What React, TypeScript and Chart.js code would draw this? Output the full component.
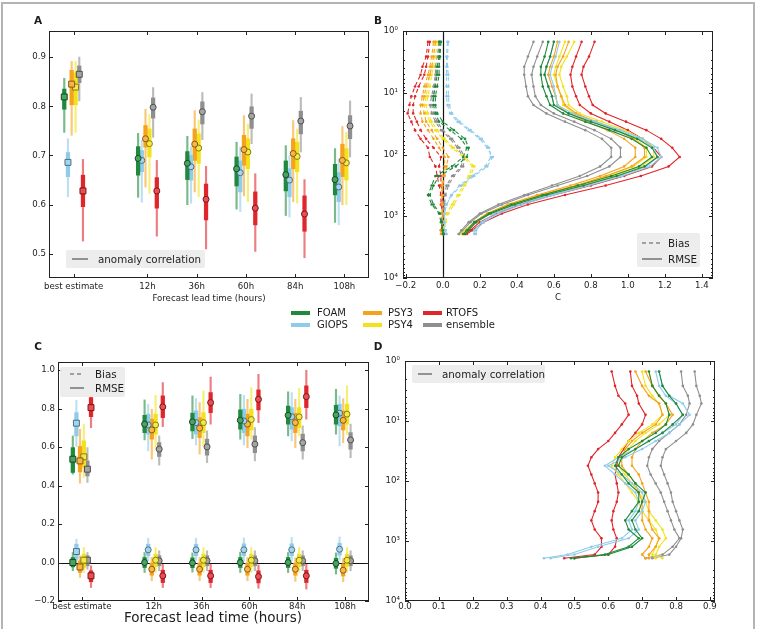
import React, { useEffect, useRef } from 'react';
import { Chart, registerables } from 'chart.js';

Chart.register(...registerables);

const FONT_FAMILY = '"DejaVu Sans", "Liberation Sans", Arial, sans-serif';
const INK = '#1c1c1c';
Chart.defaults.font.family = FONT_FAMILY;
Chart.defaults.color = INK;

// ---------- shared categories / systems ----------
const categories = ['best estimate', '12h', '36h', '60h', '84h', '108h'];
const categoryPos = [0, 1.5, 2.5, 3.5, 4.5, 5.5];

const systems = ['FOAM', 'GIOPS', 'PSY3', 'PSY4', 'ensemble', 'RTOFS'];
const systemColors = ['#1f8a3c', '#8fcbea', '#f6a21d', '#f2e21b', '#8f8f8f', '#e1262b'];
const systemOffsets = [-0.19, -0.115, -0.04, 0.04, 0.115, 0.19];

// ---------- panel A: anomaly correlation ----------
// each row: [centre, thick low, thick high, thin low, thin high]
const acFOAM = [
  [0.819, 0.794, 0.835, 0.747, 0.857],
  [0.694, 0.66, 0.718, 0.615, 0.745],
  [0.684, 0.651, 0.708, 0.6, 0.739],
  [0.673, 0.638, 0.697, 0.591, 0.727],
  [0.661, 0.628, 0.689, 0.578, 0.72],
  [0.651, 0.62, 0.682, 0.564, 0.714],
];
const acGIOPS = [
  [0.686, 0.657, 0.706, 0.616, 0.734],
  [0.69, 0.667, 0.71, 0.605, 0.731],
  [0.677, 0.65, 0.7, 0.603, 0.718],
  [0.665, 0.626, 0.689, 0.586, 0.717],
  [0.65, 0.616, 0.673, 0.575, 0.7],
  [0.636, 0.606, 0.665, 0.559, 0.693],
];
const acPSY3 = [
  [0.845, 0.803, 0.873, 0.741, 0.891],
  [0.734, 0.717, 0.761, 0.636, 0.794],
  [0.723, 0.69, 0.754, 0.626, 0.791],
  [0.712, 0.68, 0.741, 0.618, 0.781],
  [0.704, 0.673, 0.734, 0.606, 0.771],
  [0.69, 0.657, 0.723, 0.6, 0.759],
];
const acPSY4 = [
  [0.839, 0.803, 0.868, 0.747, 0.891],
  [0.724, 0.697, 0.754, 0.623, 0.783],
  [0.715, 0.684, 0.744, 0.616, 0.772],
  [0.707, 0.673, 0.734, 0.606, 0.764],
  [0.698, 0.667, 0.727, 0.603, 0.754],
  [0.685, 0.65, 0.714, 0.6, 0.747],
];
const acEnsemble = [
  [0.865, 0.848, 0.882, 0.811, 0.9],
  [0.798, 0.776, 0.817, 0.737, 0.838],
  [0.789, 0.764, 0.809, 0.732, 0.828],
  [0.78, 0.755, 0.799, 0.724, 0.825],
  [0.77, 0.744, 0.79, 0.707, 0.818],
  [0.76, 0.734, 0.781, 0.697, 0.811],
];
const acRTOFS = [
  [0.628, 0.596, 0.66, 0.526, 0.692],
  [0.628, 0.593, 0.655, 0.536, 0.69],
  [0.611, 0.569, 0.642, 0.51, 0.678],
  [0.593, 0.559, 0.626, 0.505, 0.663],
  [0.581, 0.546, 0.618, 0.492, 0.651],
  null,
];
const aTicks = [0.5, 0.6, 0.7, 0.8, 0.9];

// ---------- panel C: RMSE and bias ----------
const rmseFOAM = [
  [0.537, 0.468, 0.597, 0.459, 0.658],
  [0.719, 0.675, 0.765, 0.637, 0.845],
  [0.731, 0.684, 0.776, 0.644, 0.866],
  [0.739, 0.693, 0.793, 0.641, 0.874],
  [0.765, 0.719, 0.813, 0.658, 0.887],
  [0.767, 0.719, 0.817, 0.667, 0.9],
];
const rmseGIOPS = [
  [0.724, 0.658, 0.779, 0.603, 0.843],
  [0.715, 0.667, 0.771, 0.58, 0.823],
  [0.727, 0.667, 0.788, 0.61, 0.852],
  [0.736, 0.675, 0.797, 0.61, 0.869],
  [0.758, 0.693, 0.805, 0.632, 0.883],
  [0.776, 0.71, 0.823, 0.606, 0.866],
];
const rmsePSY3 = [
  [0.528, 0.471, 0.603, 0.412, 0.693],
  [0.689, 0.641, 0.745, 0.537, 0.797],
  [0.698, 0.649, 0.753, 0.563, 0.831],
  [0.719, 0.658, 0.771, 0.597, 0.848],
  [0.727, 0.675, 0.776, 0.597, 0.848],
  [0.739, 0.689, 0.788, 0.623, 0.852],
];
const rmsePSY4 = [
  [0.549, 0.494, 0.632, 0.442, 0.719],
  [0.715, 0.667, 0.771, 0.589, 0.869],
  [0.727, 0.675, 0.779, 0.606, 0.892],
  [0.743, 0.689, 0.797, 0.641, 0.909],
  [0.757, 0.701, 0.805, 0.658, 0.905],
  [0.771, 0.719, 0.823, 0.667, 0.918],
];
const rmseEnsemble = [
  [0.485, 0.45, 0.528, 0.416, 0.597],
  [0.589, 0.551, 0.623, 0.506, 0.658],
  [0.601, 0.558, 0.641, 0.519, 0.684],
  [0.615, 0.571, 0.658, 0.528, 0.701],
  [0.623, 0.58, 0.667, 0.537, 0.71],
  [0.637, 0.589, 0.675, 0.545, 0.719],
];
const rmseRTOFS = [
  [0.805, 0.758, 0.857, 0.701, 0.866],
  [0.809, 0.753, 0.866, 0.706, 0.935],
  [0.831, 0.779, 0.883, 0.719, 0.964],
  [0.848, 0.793, 0.897, 0.727, 0.978],
  [0.862, 0.805, 0.918, 0.745, 0.999],
  null,
];
const biasFOAM = [
  [0.0, -0.023, 0.026, -0.043, 0.052],
  [0.0, -0.026, 0.026, -0.052, 0.052],
  [-0.002, -0.027, 0.024, -0.05, 0.05],
  [0.0, -0.026, 0.026, -0.052, 0.054],
  [0.0, -0.026, 0.026, -0.052, 0.052],
  [-0.005, -0.03, 0.022, -0.06, 0.05],
];
const biasGIOPS = [
  [0.057, 0.017, 0.095, 0.0, 0.121],
  [0.066, 0.035, 0.095, 0.009, 0.126],
  [0.066, 0.035, 0.095, 0.012, 0.126],
  [0.066, 0.035, 0.097, 0.009, 0.128],
  [0.066, 0.035, 0.097, 0.009, 0.13],
  [0.069, 0.038, 0.1, 0.012, 0.133],
];
const biasPSY3 = [
  [-0.023, -0.052, 0.009, -0.078, 0.035],
  [-0.035, -0.066, -0.003, -0.095, 0.026],
  [-0.035, -0.066, -0.003, -0.095, 0.026],
  [-0.035, -0.066, -0.003, -0.095, 0.026],
  [-0.035, -0.066, -0.003, -0.098, 0.024],
  [-0.04, -0.07, -0.008, -0.1, 0.022],
];
const biasPSY4 = [
  [0.012, -0.026, 0.043, -0.052, 0.078],
  [0.012, -0.021, 0.043, -0.052, 0.078],
  [0.012, -0.021, 0.043, -0.052, 0.078],
  [0.012, -0.021, 0.043, -0.052, 0.078],
  [0.012, -0.021, 0.043, -0.052, 0.078],
  [0.012, -0.021, 0.043, -0.052, 0.078],
];
const biasEnsemble = [
  [0.012, -0.017, 0.035, -0.035, 0.052],
  [0.009, -0.017, 0.035, -0.043, 0.061],
  [0.009, -0.017, 0.035, -0.043, 0.061],
  [0.009, -0.017, 0.035, -0.043, 0.061],
  [0.009, -0.017, 0.035, -0.043, 0.061],
  [0.009, -0.017, 0.035, -0.043, 0.061],
];
const biasRTOFS = [
  [-0.069, -0.1, -0.043, -0.13, -0.017],
  [-0.069, -0.104, -0.04, -0.13, -0.009],
  [-0.069, -0.104, -0.04, -0.13, -0.009],
  [-0.073, -0.106, -0.043, -0.134, -0.012],
  [-0.069, -0.104, -0.04, -0.138, -0.009],
  null,
];
const cTicks = [-0.2, 0.0, 0.2, 0.4, 0.6, 0.8, 1.0];

// ---------- panels B and D: vertical profiles ----------
const depthLevels = [1.5, 2.6, 3.8, 5.1, 7.9, 11.4, 15.8, 21.6, 29.4, 40.3, 55.8, 77.9, 109.7, 155.9, 222.5, 318.1, 453.9, 643.6, 902.3, 1245, 1684, 1941];
const depthTicks = [1, 10, 100, 1000, 10000];
const depthTickLabels = ['10\u2070', '10\u00b9', '10\u00b2', '10\u00b3', '10\u2074'];

// RMSE profiles (C), two curves per system
const rmseProfFOAM = [
  [0.57, 0.55, 0.53, 0.53, 0.54, 0.56, 0.58, 0.65, 0.77, 0.9, 1.02, 1.1, 1.13, 1.06, 0.91, 0.73, 0.54, 0.37, 0.25, 0.17, 0.13, 0.11],
  [0.6, 0.58, 0.56, 0.55, 0.57, 0.59, 0.6, 0.68, 0.8, 0.93, 1.05, 1.13, 1.16, 1.09, 0.94, 0.76, 0.56, 0.39, 0.26, 0.18, 0.14, 0.12],
];
const rmseProfGIOPS = [
  [0.6, 0.58, 0.56, 0.55, 0.57, 0.59, 0.6, 0.68, 0.81, 0.94, 1.06, 1.14, 1.16, 1.1, 0.95, 0.77, 0.58, 0.41, 0.28, 0.21, 0.17, 0.17],
  [0.63, 0.61, 0.59, 0.58, 0.6, 0.61, 0.62, 0.7, 0.83, 0.96, 1.08, 1.16, 1.18, 1.12, 0.97, 0.79, 0.6, 0.43, 0.3, 0.22, 0.18, 0.18],
];
const rmseProfPSY3 = [
  [0.62, 0.6, 0.58, 0.57, 0.59, 0.61, 0.62, 0.68, 0.78, 0.89, 0.98, 1.04, 1.04, 0.98, 0.85, 0.69, 0.51, 0.35, 0.24, 0.17, 0.13, 0.11],
  [0.68, 0.65, 0.62, 0.61, 0.62, 0.64, 0.66, 0.72, 0.83, 0.94, 1.03, 1.09, 1.09, 1.02, 0.88, 0.72, 0.53, 0.37, 0.25, 0.18, 0.14, 0.12],
];
const rmseProfPSY4 = [
  [0.66, 0.63, 0.61, 0.6, 0.62, 0.64, 0.65, 0.71, 0.82, 0.94, 1.04, 1.1, 1.1, 1.03, 0.89, 0.72, 0.53, 0.36, 0.24, 0.17, 0.12, 0.1],
  [0.71, 0.67, 0.64, 0.63, 0.65, 0.67, 0.68, 0.74, 0.86, 0.98, 1.08, 1.14, 1.14, 1.07, 0.92, 0.75, 0.55, 0.38, 0.25, 0.18, 0.13, 0.11],
];
const rmseProfEnsemble = [
  [0.49, 0.46, 0.44, 0.44, 0.45, 0.46, 0.49, 0.56, 0.66, 0.77, 0.86, 0.91, 0.91, 0.85, 0.74, 0.59, 0.44, 0.3, 0.2, 0.14, 0.1, 0.085],
  [0.54, 0.51, 0.49, 0.48, 0.49, 0.5, 0.53, 0.6, 0.71, 0.82, 0.91, 0.96, 0.96, 0.9, 0.78, 0.62, 0.46, 0.32, 0.21, 0.15, 0.11, 0.09],
];
const rmseProfRTOFS = [
  [0.75, 0.72, 0.7, 0.69, 0.7, 0.72, 0.74, 0.8, 0.9, 1.0, 1.08, 1.14, 1.18, 1.13, 0.98, 0.8, 0.6, 0.42, 0.29, 0.2, 0.15, 0.12],
  [0.82, 0.79, 0.76, 0.75, 0.77, 0.79, 0.81, 0.88, 0.99, 1.1, 1.18, 1.24, 1.28, 1.22, 1.07, 0.88, 0.66, 0.46, 0.32, 0.22, 0.16, 0.13],
];

// Bias profiles (C), two curves per system
const biasProfFOAM = [
  [-0.02, -0.02, -0.03, -0.03, -0.04, -0.05, -0.05, -0.04, -0.02, 0.04, 0.1, 0.13, 0.11, 0.05, -0.04, -0.06, -0.08, -0.06, -0.02, -0.01, 0.0, 0.0],
  [-0.01, -0.015, -0.02, -0.02, -0.03, -0.04, -0.04, -0.03, 0.0, 0.06, 0.12, 0.14, 0.13, 0.07, -0.02, -0.05, -0.07, -0.05, -0.015, -0.005, 0.0, 0.005],
];
const biasProfGIOPS = [
  [0.025, 0.02, 0.02, 0.02, 0.02, 0.02, 0.025, 0.04, 0.08, 0.14, 0.2, 0.24, 0.27, 0.24, 0.17, 0.1, 0.05, 0.02, 0.01, 0.005, 0.01, 0.02],
  [0.03, 0.025, 0.025, 0.03, 0.03, 0.03, 0.035, 0.05, 0.09, 0.15, 0.21, 0.25, 0.26, 0.23, 0.16, 0.09, 0.045, 0.02, 0.01, 0.01, 0.015, 0.02],
];
const biasProfPSY3 = [
  [-0.05, -0.06, -0.07, -0.08, -0.1, -0.11, -0.12, -0.12, -0.11, -0.08, -0.05, -0.02, 0.01, 0.01, 0.0, -0.005, -0.005, -0.005, -0.005, -0.005, -0.01, -0.01],
  [-0.04, -0.05, -0.06, -0.07, -0.09, -0.1, -0.11, -0.1, -0.09, -0.06, -0.03, 0.0, 0.03, 0.02, 0.01, 0.0, 0.0, 0.0, 0.0, 0.0, -0.005, -0.005],
];
const biasProfPSY4 = [
  [-0.04, -0.05, -0.06, -0.07, -0.08, -0.09, -0.1, -0.09, -0.07, -0.04, 0.0, 0.05, 0.11, 0.16, 0.14, 0.11, 0.08, 0.05, 0.02, 0.01, 0.0, 0.0],
  [-0.03, -0.04, -0.05, -0.06, -0.07, -0.08, -0.09, -0.08, -0.06, -0.03, 0.01, 0.06, 0.12, 0.17, 0.15, 0.12, 0.09, 0.06, 0.03, 0.015, 0.005, 0.0],
];
const biasProfEnsemble = [
  [-0.02, -0.03, -0.04, -0.04, -0.05, -0.06, -0.07, -0.06, -0.04, -0.01, 0.04, 0.08, 0.11, 0.1, 0.05, 0.02, 0.01, 0.005, 0.0, 0.0, 0.0, 0.0],
  [-0.015, -0.02, -0.03, -0.035, -0.045, -0.05, -0.06, -0.05, -0.03, 0.0, 0.05, 0.09, 0.12, 0.11, 0.06, 0.03, 0.015, 0.01, 0.005, 0.0, 0.0, 0.005],
];
const biasProfRTOFS = [
  [-0.08, -0.09, -0.11, -0.12, -0.15, -0.17, -0.18, -0.19, -0.17, -0.15, -0.12, -0.08, -0.07, -0.04, -0.03, -0.02, -0.01, -0.01, 0.0, 0.0, -0.01, 0.0],
  [-0.07, -0.08, -0.09, -0.1, -0.13, -0.15, -0.16, -0.16, -0.14, -0.12, -0.09, -0.05, -0.01, -0.02, -0.01, -0.01, 0.0, -0.005, 0.0, 0.005, 0.0, 0.01],
];
const bTicks = [-0.2, 0.0, 0.2, 0.4, 0.6, 0.8, 1.0, 1.2, 1.4];

// Anomaly correlation profiles, two curves per system
const acProfFOAM = [
  [0.72, 0.73, 0.75, 0.77, 0.78, 0.77, 0.74, 0.7, 0.66, 0.63, 0.62, 0.64, 0.66, 0.69, 0.69, 0.67, 0.65, 0.66, 0.69, 0.66, 0.59, 0.49],
  [0.75, 0.76, 0.78, 0.8, 0.82, 0.79, 0.76, 0.72, 0.68, 0.64, 0.63, 0.66, 0.68, 0.71, 0.7, 0.69, 0.67, 0.68, 0.7, 0.67, 0.6, 0.5],
];
const acProfGIOPS = [
  [0.74, 0.75, 0.77, 0.8, 0.82, 0.8, 0.76, 0.72, 0.68, 0.63, 0.59, 0.62, 0.65, 0.68, 0.69, 0.68, 0.66, 0.67, 0.64, 0.55, 0.48, 0.41],
  [0.75, 0.76, 0.78, 0.82, 0.84, 0.81, 0.78, 0.74, 0.7, 0.65, 0.6, 0.64, 0.67, 0.7, 0.71, 0.7, 0.68, 0.69, 0.66, 0.57, 0.5, 0.43],
];
const acProfPSY3 = [
  [0.68, 0.7, 0.72, 0.75, 0.76, 0.74, 0.7, 0.67, 0.65, 0.64, 0.64, 0.66, 0.68, 0.69, 0.7, 0.7, 0.7, 0.71, 0.73, 0.72, 0.7, 0.71],
  [0.71, 0.73, 0.75, 0.77, 0.79, 0.77, 0.73, 0.7, 0.68, 0.67, 0.67, 0.69, 0.7, 0.71, 0.72, 0.72, 0.72, 0.73, 0.75, 0.74, 0.72, 0.72],
];
const acProfPSY4 = [
  [0.7, 0.71, 0.73, 0.75, 0.76, 0.73, 0.69, 0.66, 0.64, 0.62, 0.61, 0.63, 0.65, 0.67, 0.69, 0.7, 0.72, 0.74, 0.75, 0.74, 0.73, 0.74],
  [0.72, 0.73, 0.75, 0.77, 0.78, 0.75, 0.71, 0.68, 0.66, 0.64, 0.63, 0.65, 0.67, 0.69, 0.71, 0.72, 0.74, 0.76, 0.77, 0.75, 0.74, 0.76],
];
const acProfEnsemble = [
  [0.815, 0.82, 0.835, 0.84, 0.83, 0.81, 0.78, 0.75, 0.73, 0.72, 0.715, 0.725, 0.74, 0.755, 0.765, 0.775, 0.785, 0.795, 0.81, 0.79, 0.76, 0.71],
  [0.855, 0.86, 0.87, 0.875, 0.86, 0.85, 0.83, 0.8, 0.77, 0.76, 0.755, 0.765, 0.775, 0.785, 0.79, 0.8, 0.81, 0.82, 0.815, 0.8, 0.78, 0.73],
];
const acProfRTOFS = [
  [0.61, 0.62, 0.63, 0.65, 0.66, 0.64, 0.62, 0.6, 0.57, 0.55, 0.54, 0.55, 0.56, 0.57, 0.57, 0.56, 0.55, 0.56, 0.58, 0.58, 0.56, 0.47],
  [0.665, 0.67, 0.685, 0.69, 0.71, 0.7, 0.68, 0.66, 0.645, 0.63, 0.625, 0.62, 0.625, 0.63, 0.625, 0.615, 0.61, 0.615, 0.625, 0.62, 0.6, 0.5],
];
const dTicks = [0.0, 0.1, 0.2, 0.3, 0.4, 0.5, 0.6, 0.7, 0.8, 0.9];

// per-system lookups in the same order as `systems`
const acRows = [acFOAM, acGIOPS, acPSY3, acPSY4, acEnsemble, acRTOFS];
const rmseRows = [rmseFOAM, rmseGIOPS, rmsePSY3, rmsePSY4, rmseEnsemble, rmseRTOFS];
const biasRows = [biasFOAM, biasGIOPS, biasPSY3, biasPSY4, biasEnsemble, biasRTOFS];
const rmseProfiles = [rmseProfFOAM, rmseProfGIOPS, rmseProfPSY3, rmseProfPSY4, rmseProfEnsemble, rmseProfRTOFS];
const biasProfiles = [biasProfFOAM, biasProfGIOPS, biasProfPSY3, biasProfPSY4, biasProfEnsemble, biasProfRTOFS];
const acProfiles = [acProfFOAM, acProfGIOPS, acProfPSY3, acProfPSY4, acProfEnsemble, acProfRTOFS];

// ---------- helpers ----------
type Geo = { left: number; top: number; width: number; height: number; x0: number; y0: number; x1: number; y1: number };

function rgbOf(hex: string) {
  const n = parseInt(hex.slice(1), 16);
  return [(n >> 16) & 255, (n >> 8) & 255, n & 255];
}
function mix(hex: string, target: number, amount: number) {
  const [r, g, b] = rgbOf(hex);
  const m = (c: number) => Math.round(c + (target - c) * amount);
  return `rgb(${m(r)}, ${m(g)}, ${m(b)})`;
}
function alpha(hex: string, a: number) {
  const [r, g, b] = rgbOf(hex);
  return `rgba(${r}, ${g}, ${b}, ${a})`;
}
const fmt1 = (v: number) => (v < -1e-9 ? '\u2212' : '') + Math.abs(v).toFixed(1);

const TICK_FONT = { family: FONT_FAMILY, size: 8.6 };

const framePlugin = {
  id: 'frame',
  beforeDatasetsDraw(chart: any, _args: any, opts: any) {
    const { ctx, chartArea } = chart;
    const { left, right, top, bottom } = chartArea;
    ctx.save();
    ctx.strokeStyle = '#111';
    ctx.lineWidth = 1.2;
    if (opts.zeroY !== undefined) {
      const py = Math.round(chart.scales.y.getPixelForValue(opts.zeroY)) + 0.5;
      ctx.beginPath();
      ctx.moveTo(left, py);
      ctx.lineTo(right, py);
      ctx.stroke();
    }
    if (opts.zeroX !== undefined) {
      const px = Math.round(chart.scales.x.getPixelForValue(opts.zeroX)) + 0.5;
      ctx.beginPath();
      ctx.moveTo(px, top);
      ctx.lineTo(px, bottom);
      ctx.stroke();
    }
    ctx.restore();
  },
  afterDatasetsDraw(chart: any, _args: any, opts: any) {
    const { ctx, chartArea } = chart;
    const { left, right, top, bottom } = chartArea;
    const xs = chart.scales.x;
    const ys = chart.scales.y;
    ctx.save();
    ctx.strokeStyle = '#222';
    ctx.lineWidth = 1;
    ctx.strokeRect(left + 0.5, top + 0.5, right - left - 1, bottom - top - 1);
    ctx.beginPath();
    const vTick = (v: number, len: number) => {
      const px = Math.round(xs.getPixelForValue(v)) + 0.5;
      ctx.moveTo(px, bottom);
      ctx.lineTo(px, bottom - len);
      ctx.moveTo(px, top);
      ctx.lineTo(px, top + len);
    };
    const hTick = (v: number, len: number) => {
      const py = Math.round(ys.getPixelForValue(v)) + 0.5;
      ctx.moveTo(left, py);
      ctx.lineTo(left + len, py);
      ctx.moveTo(right, py);
      ctx.lineTo(right - len, py);
    };
    xs.ticks.forEach((t: any) => vTick(t.value, 4));
    ys.ticks.forEach((t: any) => hTick(t.value, 4));
    (opts.yMinor || []).forEach((v: number) => hTick(v, 2));
    ctx.stroke();
    ctx.restore();
  },
};

function baseOptions(geo: Geo, xLabelPad: number, yLabelPad: number) {
  return {
    responsive: false,
    animation: false,
    events: [],
    layout: {
      padding: { left: 0, top: geo.y0 - geo.top, right: geo.left + geo.width - geo.x1, bottom: 0 },
    },
    xFit: (scale: any) => {
      scale.height = geo.top + geo.height - geo.y1;
    },
    yFit: (scale: any) => {
      scale.width = geo.x0 - geo.left;
    },
    xLabelPad,
    yLabelPad,
  };
}

function commonAxis(fit: (s: any) => void, pad: number) {
  return {
    grid: { display: false, drawTicks: false },
    border: { display: false },
    afterFit: fit,
    ticks: { font: TICK_FONT, color: INK, padding: pad, autoSkip: false, maxRotation: 0, minRotation: 0 },
  };
}

function errorBarDatasets(groups: any[][][]) {
  const sets: any[] = [];
  systems.forEach((name, j) => {
    const color = systemColors[j];
    const pts: { x: number; row: number[]; best: boolean }[] = [];
    groups.forEach((group) => {
      group[j].forEach((row: number[] | null, i: number) => {
        if (row) pts.push({ x: categoryPos[i] + systemOffsets[j], row, best: i === 0 });
      });
    });
    sets.push({
      type: 'bar',
      label: name,
      data: pts.map((p) => ({ x: p.x, y: [p.row[3], p.row[4]] })),
      backgroundColor: alpha(color, 0.6),
      barThickness: 1.5,
      grouped: false,
      order: 3,
    });
    sets.push({
      type: 'bar',
      label: name,
      data: pts.map((p) => ({ x: p.x, y: [p.row[1], p.row[2]] })),
      backgroundColor: color,
      barThickness: 3.6,
      grouped: false,
      order: 2,
    });
    sets.push({
      type: 'scatter',
      label: name,
      data: pts.map((p) => ({ x: p.x, y: p.row[0], best: p.best })),
      pointStyle: (c: any) => (c.raw && c.raw.best ? 'rect' : 'circle'),
      pointRadius: (c: any) => (c.raw && c.raw.best ? 4.2 : 3),
      backgroundColor: mix(color, 255, 0.2),
      borderColor: mix(color, 0, 0.45),
      borderWidth: 1,
      order: 1,
    });
  });
  return sets;
}

function categoryChart(geo: Geo, groups: any[][][], yMin: number, yMax: number, yTicks: number[], xPad: number, yPad: number, zeroY?: number) {
  const b = baseOptions(geo, xPad, yPad);
  return {
    type: 'bar',
    data: { datasets: errorBarDatasets(groups) },
    options: {
      responsive: b.responsive,
      animation: b.animation,
      events: b.events,
      layout: b.layout,
      plugins: { legend: { display: false }, tooltip: { enabled: false }, frame: { zeroY } },
      scales: {
        x: {
          type: 'linear',
          offset: false,
          min: -0.5,
          max: 6.0,
          ...commonAxis(b.xFit, xPad),
          afterBuildTicks: (axis: any) => {
            axis.ticks = categoryPos.map((v) => ({ value: v }));
          },
          ticks: { ...commonAxis(b.xFit, xPad).ticks, callback: (_v: any, i: number) => categories[i] },
        },
        y: {
          type: 'linear',
          min: yMin,
          max: yMax,
          ...commonAxis(b.yFit, yPad),
          afterBuildTicks: (axis: any) => {
            axis.ticks = yTicks.map((v) => ({ value: v }));
          },
          ticks: { ...commonAxis(b.yFit, yPad).ticks, callback: (_v: any, i: number) => fmt1(yTicks[i]) },
        },
      },
    },
    plugins: [framePlugin],
  };
}

const minorLogTicks: number[] = [];
[1, 10, 100, 1000].forEach((d) => {
  for (let k = 2; k <= 9; k++) minorLogTicks.push(d * k);
});

function profileChart(geo: Geo, lineSets: { values: number[]; color: string; dashed: boolean }[], xMin: number, xMax: number, xTicks: number[], xPad: number, yPad: number, zeroX?: number) {
  const b = baseOptions(geo, xPad, yPad);
  return {
    type: 'line',
    data: {
      datasets: lineSets.map((s) => ({
        data: depthLevels.map((d, i) => ({ x: s.values[i], y: d })),
        borderColor: s.color,
        borderWidth: 1.1,
        borderDash: s.dashed ? [4, 3] : [],
        pointRadius: 1.3,
        pointBackgroundColor: s.color,
        pointBorderWidth: 0,
        fill: false,
        tension: 0,
      })),
    },
    options: {
      responsive: b.responsive,
      animation: b.animation,
      events: b.events,
      layout: b.layout,
      plugins: { legend: { display: false }, tooltip: { enabled: false }, frame: { zeroX, yMinor: minorLogTicks } },
      scales: {
        x: {
          type: 'linear',
          min: xMin,
          max: xMax,
          ...commonAxis(b.xFit, xPad),
          afterBuildTicks: (axis: any) => {
            axis.ticks = xTicks.map((v) => ({ value: v }));
          },
          ticks: { ...commonAxis(b.xFit, xPad).ticks, callback: (_v: any, i: number) => fmt1(xTicks[i]) },
        },
        y: {
          type: 'logarithmic',
          reverse: true,
          min: 1,
          max: 10000,
          ...commonAxis(b.yFit, yPad),
          afterBuildTicks: (axis: any) => {
            axis.ticks = depthTicks.map((v) => ({ value: v }));
          },
          ticks: { ...commonAxis(b.yFit, yPad).ticks, callback: (_v: any, i: number) => depthTickLabels[i] },
        },
      },
    },
    plugins: [framePlugin],
  };
}

// ---------- layout ----------
const GEO_A: Geo = { left: 0, top: 20, width: 380, height: 290, x0: 49, y0: 31, x1: 369, y1: 278 };
const GEO_B: Geo = { left: 380, top: 20, width: 375, height: 290, x0: 403, y0: 31, x1: 713, y1: 278 };
const GEO_C: Geo = { left: 0, top: 340, width: 380, height: 280, x0: 58, y0: 362, x1: 369, y1: 601 };
const GEO_D: Geo = { left: 380, top: 340, width: 375, height: 280, x0: 405, y0: 361, x1: 715, y1: 601 };

function buildA() {
  return categoryChart(GEO_A, [acRows], 0.451, 0.953, aTicks, 3.5, 3);
}
function buildC() {
  return categoryChart(GEO_C, [rmseRows, biasRows], -0.2, 1.042, cTicks, 1, 3, 0);
}
function buildB() {
  const sets: { values: number[]; color: string; dashed: boolean }[] = [];
  systems.forEach((_n, j) => {
    biasProfiles[j].forEach((v) => sets.push({ values: v, color: systemColors[j], dashed: true }));
    rmseProfiles[j].forEach((v) => sets.push({ values: v, color: systemColors[j], dashed: false }));
  });
  return profileChart(GEO_B, sets, -0.215, 1.46, bTicks, 3, 5, 0);
}
function buildD() {
  const sets: { values: number[]; color: string; dashed: boolean }[] = [];
  systems.forEach((_n, j) => {
    acProfiles[j].forEach((v) => sets.push({ values: v, color: systemColors[j], dashed: false }));
  });
  return profileChart(GEO_D, sets, 0, 0.915, dTicks, 1, 5);
}

function ChartCanvas({ geo, build }: { geo: Geo; build: () => any }) {
  const ref = useRef<HTMLCanvasElement>(null);
  useEffect(() => {
    const chart = new Chart(ref.current as HTMLCanvasElement, build());
    return () => chart.destroy();
  }, []);
  return (
    <canvas
      ref={ref}
      width={geo.width}
      height={geo.height}
      style={{ position: 'absolute', left: geo.left, top: geo.top, width: geo.width, height: geo.height }}
    />
  );
}

function Text({ x, y, size, children, bold, align = 'center' }: { x: number; y: number; size: number; children: React.ReactNode; bold?: boolean; align?: 'center' | 'left' }) {
  return (
    <div
      style={{
        position: 'absolute',
        left: x,
        top: y,
        transform: align === 'center' ? 'translate(-50%, -50%)' : 'translateY(-50%)',
        fontSize: size,
        fontWeight: bold ? 'bold' : 'normal',
        lineHeight: 1,
        whiteSpace: 'nowrap',
        color: INK,
        fontFamily: FONT_FAMILY,
      }}
    >
      {children}
    </div>
  );
}

function LegendBox(props: {
  left: number; top: number; width: number; height: number;
  lineFrom: number; lineTo: number; textLeft: number; fontSize: number;
  entries: { label: string; dashed: boolean; cy: number }[];
}) {
  const { left, top, width, height, lineFrom, lineTo, textLeft, fontSize, entries } = props;
  return (
    <>
      <div style={{ position: 'absolute', left, top, width, height, background: 'rgba(236, 236, 236, 0.92)', borderRadius: 2 }} />
      {entries.map((e) => (
        <React.Fragment key={e.label}>
          <svg style={{ position: 'absolute', left: lineFrom, top: e.cy - 2 }} width={lineTo - lineFrom} height={4}>
            <line x1={0} x2={lineTo - lineFrom} y1={2} y2={2} stroke="#555" strokeWidth={1.2} strokeDasharray={e.dashed ? '4 3' : undefined} />
          </svg>
          <Text x={textLeft} y={e.cy} size={fontSize} align="left">{e.label}</Text>
        </React.Fragment>
      ))}
    </>
  );
}

// shared colour key between the top and bottom rows
const keyColumns = [
  { swatch: 291, text: 317, items: ['FOAM', 'GIOPS'] },
  { swatch: 363, text: 388, items: ['PSY3', 'PSY4'] },
  { swatch: 423, text: 446, items: ['RTOFS', 'ensemble'] },
];
const keyRows = [313, 324.5];

export default function App() {
  return (
    <div style={{ position: 'absolute', left: 0, top: 0, width: 759, height: 629, background: '#fff', overflow: 'hidden', fontFamily: FONT_FAMILY }}>
      <div style={{ position: 'absolute', left: 1, top: 2, width: 754, height: 660, border: '2px solid #b4b4b4', boxSizing: 'border-box' }} />

      <ChartCanvas geo={GEO_A} build={buildA} />
      <ChartCanvas geo={GEO_B} build={buildB} />
      <ChartCanvas geo={GEO_C} build={buildC} />
      <ChartCanvas geo={GEO_D} build={buildD} />

      <Text x={38} y={20} size={10.5} bold>A</Text>
      <Text x={378} y={20} size={10.5} bold>B</Text>
      <Text x={38} y={346} size={10.5} bold>C</Text>
      <Text x={378} y={346} size={10.5} bold>D</Text>

      <Text x={209} y={298} size={8.6}>Forecast lead time (hours)</Text>
      <Text x={558} y={297} size={8.6}>C</Text>
      <Text x={213} y={618} size={13.5}>Forecast lead time (hours)</Text>

      <LegendBox left={66} top={250} width={139} height={18} lineFrom={72} lineTo={88} textLeft={98} fontSize={10.3}
        entries={[{ label: 'anomaly correlation', dashed: false, cy: 259 }]} />
      <LegendBox left={637} top={233} width={63} height={34} lineFrom={642} lineTo={662} textLeft={668} fontSize={10.3}
        entries={[{ label: 'Bias', dashed: true, cy: 243 }, { label: 'RMSE', dashed: false, cy: 259 }]} />
      <LegendBox left={60} top={367} width={65} height={30} lineFrom={70} lineTo={84} textLeft={95} fontSize={10.3}
        entries={[{ label: 'Bias', dashed: true, cy: 374 }, { label: 'RMSE', dashed: false, cy: 388 }]} />
      <LegendBox left={412} top={365} width={133} height={18} lineFrom={418} lineTo={432} textLeft={442} fontSize={10.3}
        entries={[{ label: 'anomaly correlation', dashed: false, cy: 373.5 }]} />

      {keyColumns.map((col) =>
        col.items.map((name, r) => (
          <React.Fragment key={name}>
            <div style={{ position: 'absolute', left: col.swatch, top: keyRows[r] - 2, width: 19, height: 4, background: systemColors[systems.indexOf(name)] }} />
            <Text x={col.text} y={keyRows[r]} size={10} align="left">{name}</Text>
          </React.Fragment>
        ))
      )}
    </div>
  );
}
